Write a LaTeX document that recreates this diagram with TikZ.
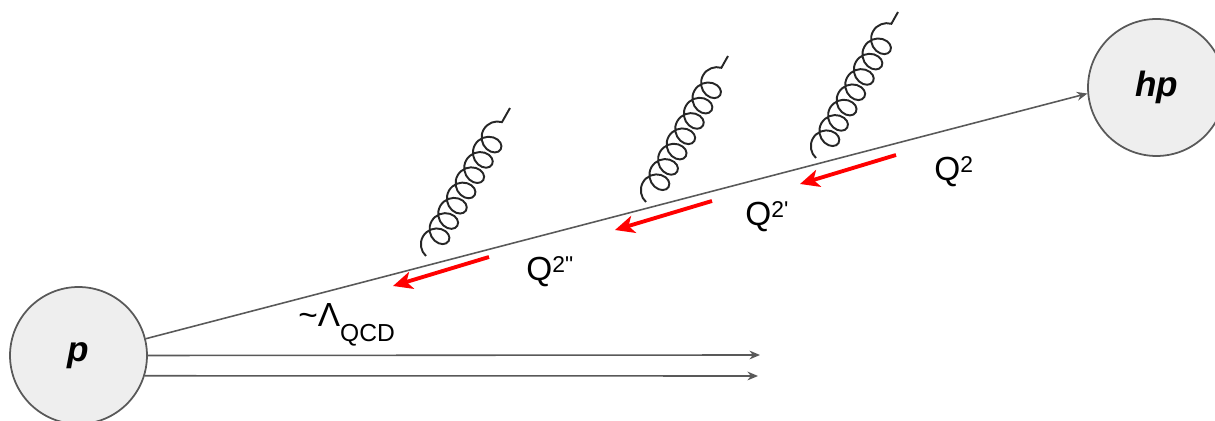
\documentclass[tikz,border=0pt]{standalone}
\usepackage{fontspec}
\setmainfont{Liberation Sans}[Ligatures=TeXOff]
\usepackage{tikz}
\usetikzlibrary{arrows.meta,positioning,decorations.pathmorphing}

\definecolor{linegray}{HTML}{595959}
\definecolor{ballgray}{HTML}{EEEEEE}

\newcommand{\supx}[1]{\raisebox{5pt}{\fontsize{13}{13}\selectfont #1}}
\newcommand{\subx}[1]{\raisebox{-8pt}{\fontsize{14}{14}\selectfont #1}}

\begin{document}
\begin{tikzpicture}[
  x=0.02cm, y=-0.02cm,
  ball/.style={circle, draw=linegray, line width=1pt, fill=ballgray, minimum size=2.74cm, inner sep=0pt, font=\fontsize{20}{24}\selectfont\bfseries\itshape},
  track/.style={draw=linegray, line width=0.9pt, -{Stealth[length=6pt,width=5pt]}},
  gluon/.style={draw=black!85, line width=1.1pt, decorate, decoration={coil, amplitude=7pt, segment length=10pt, aspect=0.9}},
  scale arrow/.style={draw=red, line width=2.2pt, -{Stealth[length=11pt,width=10pt,inset=3pt]}},
  lbl/.style={anchor=base west, inner sep=0pt, font=\fontsize{19}{22}\selectfont}
]
\useasboundingbox (0,0) rectangle (1215,421);

% Teilchen
\node[ball] (p) at (78.5,355.5) {p};
\node[ball] (hp) at (1156.5,87.5) {hp};

% Spuren
\coordinate (r1) at (760,355);
\coordinate (r2) at (758,376);
\draw[track] (p.14) -- (hp.185);
\draw[track] (p.east) -- (r1);
\draw[track] (p.-17) -- (r2);

% Gluonen
\coordinate (g1a) at (426,256);
\coordinate (g1b) at (510,108);
\coordinate (g2a) at (646,202);
\coordinate (g2b) at (728,56);
\coordinate (g3a) at (816,158);
\coordinate (g3b) at (898,12);
\draw[gluon] (g1a) -- (g1b);
\draw[gluon] (g2a) -- (g2b);
\draw[gluon] (g3a) -- (g3b);

% Skalen
\coordinate (s1a) at (489,257);
\coordinate (s1b) at (393,286);
\coordinate (s2a) at (712,201);
\coordinate (s2b) at (615,230);
\coordinate (s3a) at (896,155);
\coordinate (s3b) at (800,184);
\draw[scale arrow] (s1a) -- (s1b);
\draw[scale arrow] (s2a) -- (s2b);
\draw[scale arrow] (s3a) -- (s3b);

\node[lbl] (lqcd) at (298,327) {\textasciitilde Λ\subx{QCD}};
\node[lbl] (q2pp) at (526,281) {Q\supx{2"}};
\node[lbl] (q2p) at (745,226) {Q\supx{2'}};
\node[lbl] (q2) at (934,181) {Q\supx{2}};

\end{tikzpicture}
\end{document}
